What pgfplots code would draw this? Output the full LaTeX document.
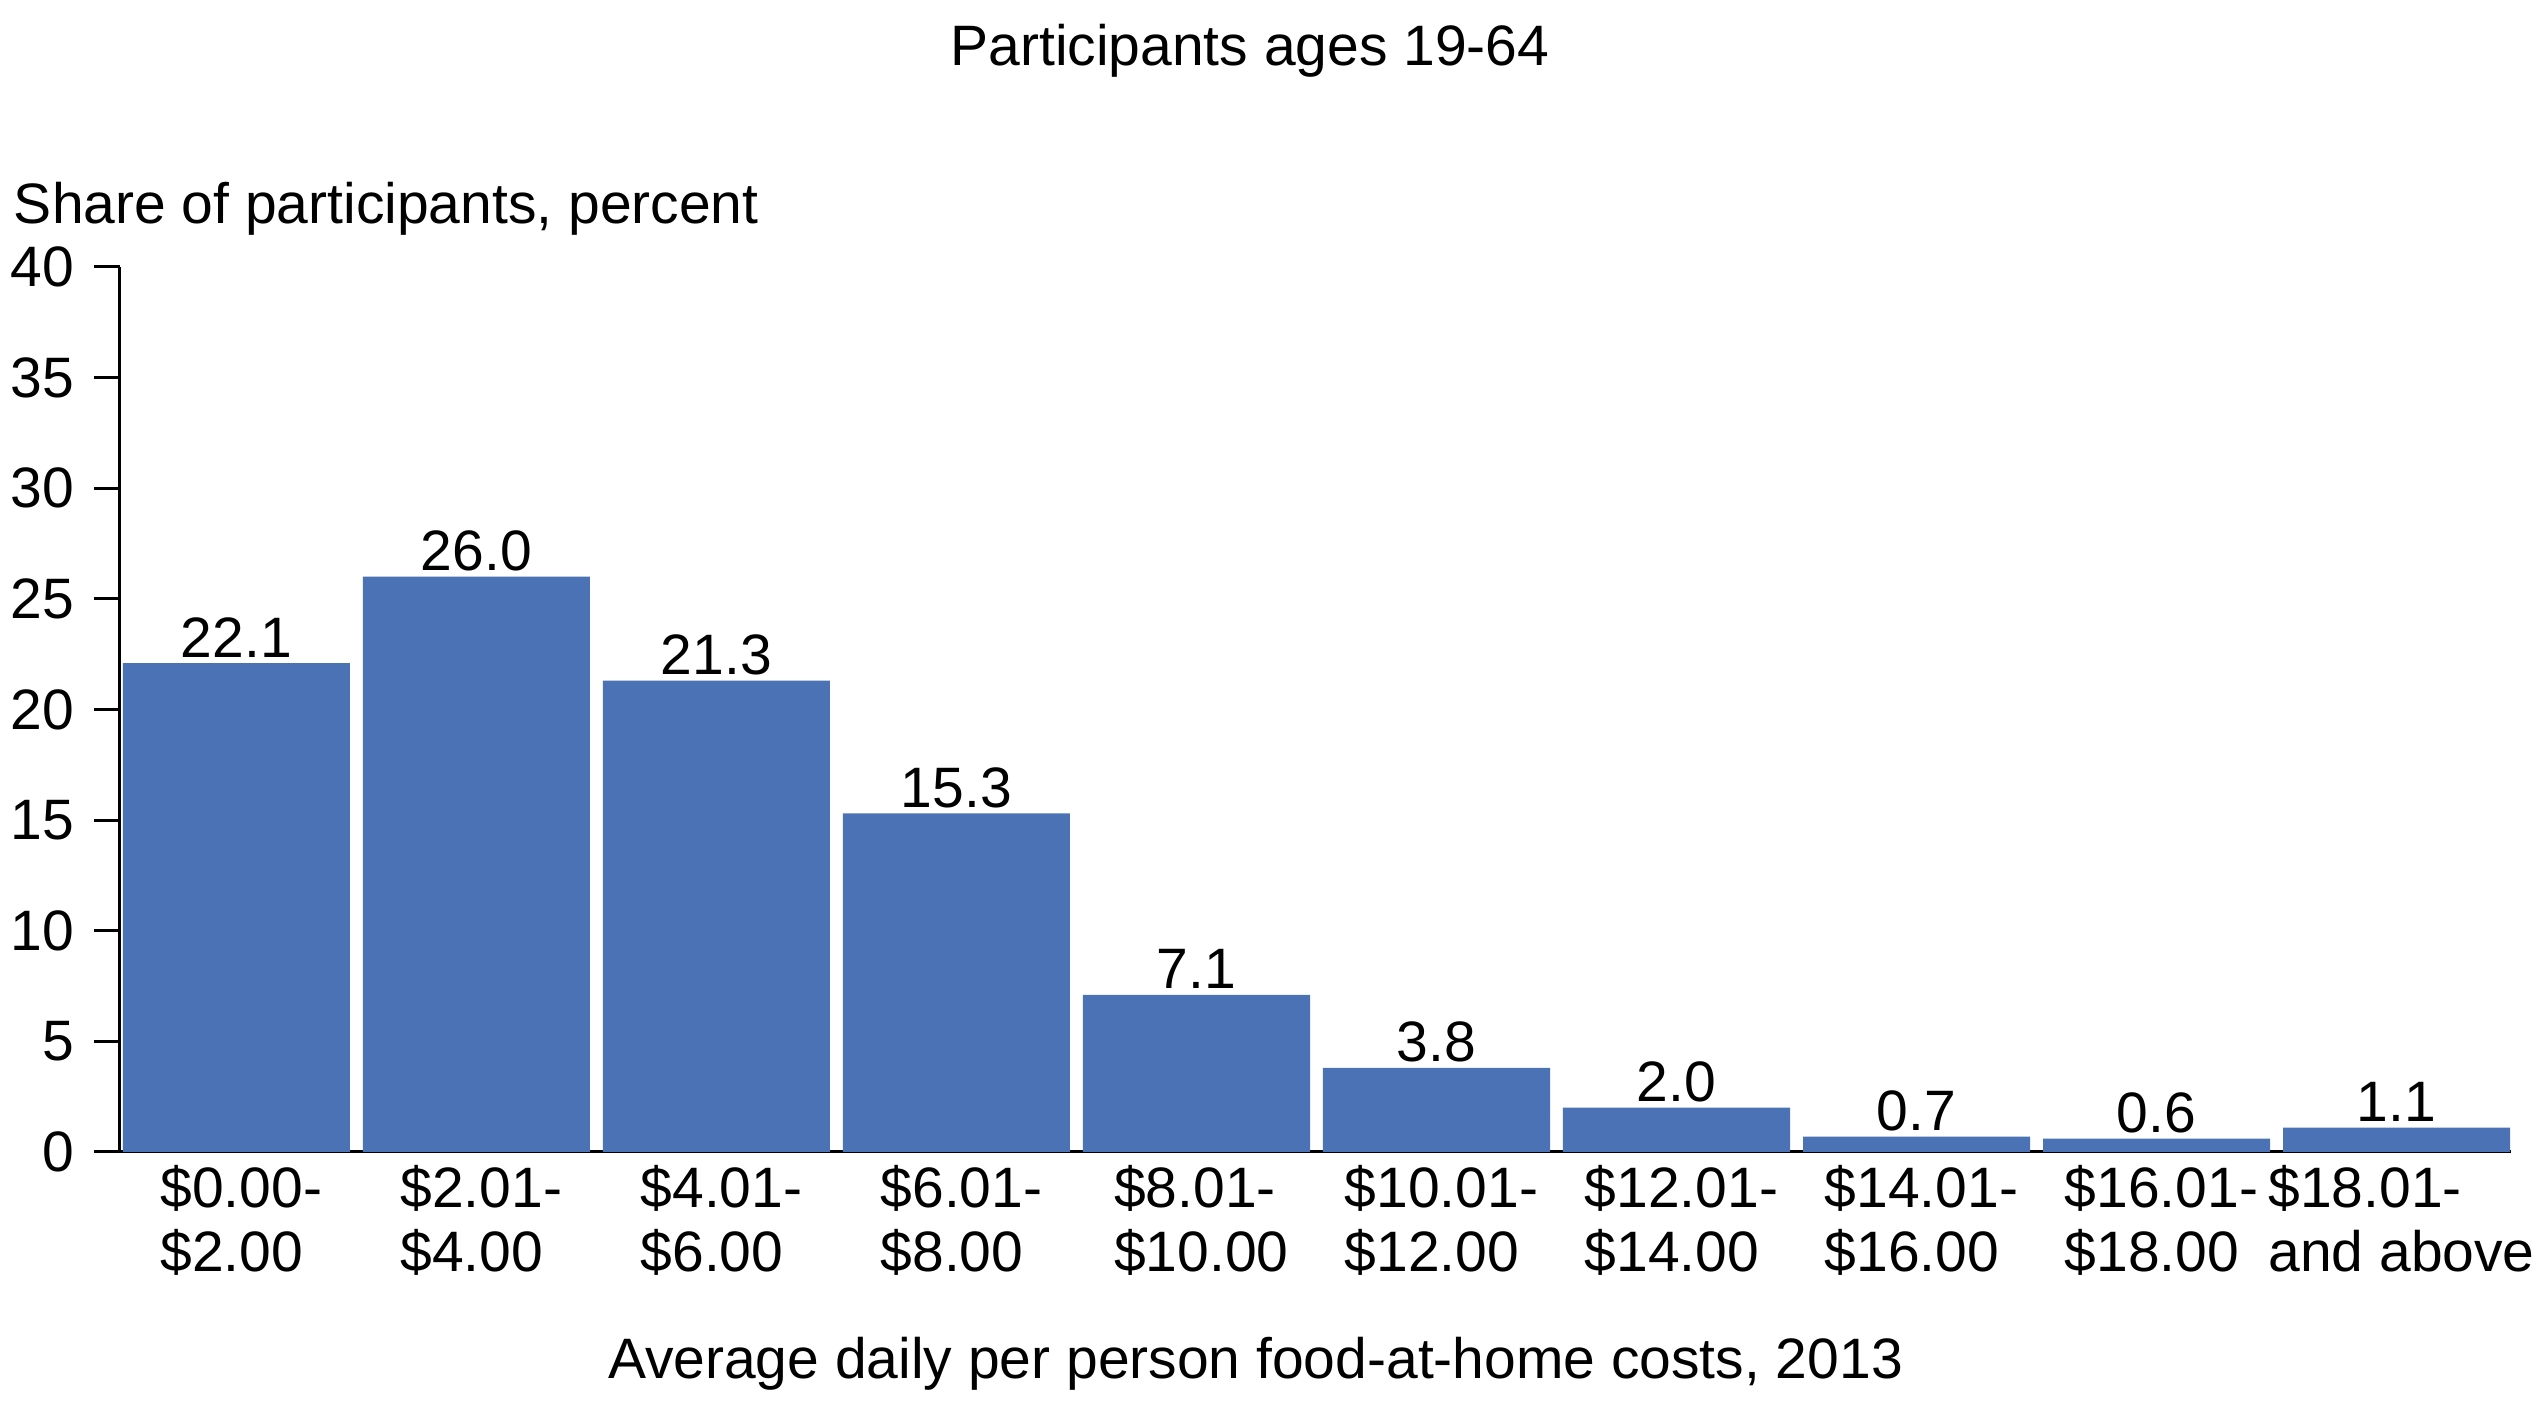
\documentclass[border=0pt]{standalone}
\usepackage{pgfplots}
\pgfplotsset{compat=1.18}
\usepackage{fontspec}
\setmainfont{Liberation Sans}
\definecolor{barblue}{RGB}{74,114,181}
\begin{document}
\begin{tikzpicture}
\fontsize{11.4}{12.8}\selectfont
\path[use as bounding box] (-24pt,-52.8pt) rectangle (483.8pt,230.4pt);
\begin{axis}[
  at={(0,0)}, anchor=south west,
  scale only axis,
  width=478.2pt, height=177pt,
  xmin=-0.485, xmax=9.477,
  ymin=0, ymax=40,
  axis x line*=bottom, axis y line*=left,
  axis line style={line width=0.6pt, -},
  ytick={0,5,...,40},
  tick align=outside,
  major tick length=5.2pt,
  ytick style={line width=0.6pt, black},
  xtick={0,...,9},
  xtick style={draw=none},
  xticklabels={{\$0.00-\\\$2.00},{\$2.01-\\\$4.00},{\$4.01-\\\$6.00},{\$6.01-\\\$8.00},{\$8.01-\\\$10.00},{\$10.01-\\\$12.00},{\$12.01-\\\$14.00},{\$14.01-\\\$16.00},{\$16.01-\\\$18.00},{\$18.01-\\and above}},
  xticklabel style={align=left, anchor=north, yshift=6.6pt, xshift=1pt, font=\fontsize{11.4}{12.8}\selectfont},
  yticklabel style={font=\fontsize{11.4}{12.8}\selectfont},
  /pgf/number format/assume math mode=true,
  ticklabel style={/pgf/number format/assume math mode=true},
  ylabel={Share of participants, percent},
  ylabel style={at={(axis description cs:-0.04475,1.0497)}, anchor=base west, rotate=-90, inner sep=0pt, font=\fontsize{11.4}{12.8}\selectfont},
  xlabel={Average daily per person food-at-home costs, 2013},
  xlabel style={at={(axis description cs:0.2037,-0.2565)}, anchor=base west, inner sep=0pt, font=\fontsize{11.4}{12.8}\selectfont},
  clip=false,
]
\addplot[ybar, bar width=0.946, fill=barblue, draw=none,
  point meta=explicit symbolic,
  nodes near coords,
  nodes near coords style={anchor=base, yshift=1.2pt, inner sep=0pt, font=\fontsize{11.4}{12.8}\selectfont, text=black}]
coordinates {
(0,22.1) [22.1]
(1,26.0) [26.0]
(2,21.3) [21.3]
(3,15.3) [15.3]
(4,7.1) [7.1]
(5,3.8) [3.8]
(6,2.0) [2.0]
(7,0.7) [0.7]
(8,0.6) [0.6]
(9,1.1) [1.1]
};
\node[anchor=base, inner sep=0pt, font=\fontsize{11.4}{12.8}\selectfont] at (axis description cs:0.4726,1.2282) {Participants ages 19-64};
\end{axis}
\end{tikzpicture}
\end{document}
